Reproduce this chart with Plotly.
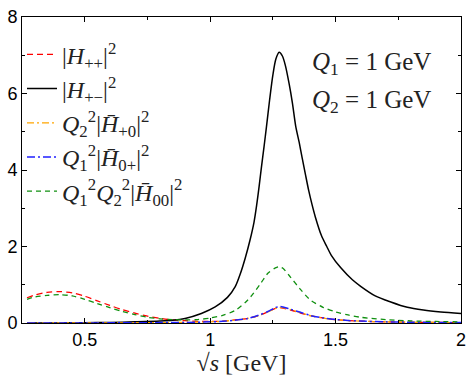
import plotly.graph_objects as go

# ---- data ----
x_pp = [0.27,0.3,0.35,0.4,0.45,0.5,0.55,0.6,0.65,0.7,0.75,0.8,0.85,0.9,0.95,1.0,1.05,1.1,1.15,1.2,1.23,1.26,1.275,1.29,1.32,1.36,1.4,1.45,1.5,1.55,1.6,1.7,1.8,1.9,2.0]
y_pp = [0.66,0.73,0.80,0.82,0.79,0.70,0.58,0.46,0.35,0.26,0.18,0.12,0.08,0.06,0.045,0.04,0.05,0.08,0.12,0.21,0.29,0.38,0.40,0.39,0.34,0.26,0.19,0.13,0.09,0.065,0.05,0.03,0.02,0.015,0.01]

x_pm = [0.27,0.4,0.5,0.6,0.7,0.8,0.85,0.9,0.965,1.02,1.069,1.1,1.121,1.14,1.159,1.175,1.185,1.195,1.205,1.215,1.224,1.237,1.25,1.262,1.275,1.288,1.3,1.315,1.328,1.341,1.355,1.367,1.38,1.393,1.406,1.419,1.444,1.465,1.483,1.52,1.567,1.6,1.658,1.72,1.786,1.85,1.92,2.0]
y_pm = [0.0,0.003,0.007,0.015,0.03,0.05,0.07,0.12,0.25,0.42,0.67,0.95,1.3,1.7,2.17,2.64,3.06,3.56,4.1,4.62,5.1,5.83,6.48,6.9,7.08,6.98,6.73,6.25,5.75,5.15,4.72,4.31,3.88,3.46,3.1,2.78,2.28,2.0,1.77,1.45,1.13,0.96,0.71,0.55,0.41,0.34,0.29,0.25]

x_p0 = [0.27,0.4,0.5,0.6,0.7,0.8,0.9,1.0,1.05,1.1,1.15,1.2,1.23,1.26,1.275,1.29,1.32,1.36,1.4,1.45,1.5,1.55,1.6,1.7,1.8,1.9,2.0]
y_p0 = [0.0,0.0,0.002,0.004,0.006,0.01,0.015,0.03,0.045,0.075,0.12,0.21,0.29,0.38,0.41,0.40,0.35,0.27,0.19,0.13,0.09,0.065,0.05,0.03,0.02,0.015,0.01]

x_0p = x_p0
y_0p = [0.0,0.0,0.002,0.004,0.006,0.01,0.015,0.03,0.045,0.075,0.12,0.22,0.30,0.40,0.43,0.42,0.36,0.28,0.195,0.135,0.092,0.066,0.05,0.03,0.02,0.015,0.01]

x_00 = [0.27,0.3,0.35,0.4,0.45,0.5,0.55,0.6,0.65,0.7,0.75,0.8,0.85,0.9,0.95,1.0,1.05,1.1,1.15,1.2,1.23,1.26,1.275,1.29,1.32,1.36,1.4,1.45,1.5,1.55,1.6,1.7,1.8,1.9,2.0]
y_00 = [0.62,0.68,0.72,0.74,0.71,0.62,0.51,0.40,0.30,0.22,0.15,0.11,0.09,0.08,0.09,0.13,0.20,0.33,0.60,1.02,1.30,1.44,1.47,1.43,1.2,0.88,0.6,0.41,0.29,0.21,0.15,0.09,0.055,0.04,0.03]

names = ["|<i>H</i><sub>++</sub>|<sup>2</sup>",
         "|<i>H</i><sub>+−</sub>|<sup>2</sup>",
         "<i>Q</i><sub>2</sub><sup>2</sup>|<i>H̄</i><sub>+0</sub>|<sup>2</sup>",
         "<i>Q</i><sub>1</sub><sup>2</sup>|<i>H̄</i><sub>0+</sub>|<sup>2</sup>",
         "<i>Q</i><sub>1</sub><sup>2</sup><i>Q</i><sub>2</sub><sup>2</sup>|<i>H̄</i><sub>00</sub>|<sup>2</sup>"]

fig = go.Figure()
fig.add_trace(go.Scatter(x=x_pp, y=y_pp, mode="lines", name=names[0], line_shape="spline",
                         line=dict(color="red", width=1.3, dash="6px,4px", smoothing=0.8)))
fig.add_trace(go.Scatter(x=x_pm, y=y_pm, mode="lines", name=names[1], line_shape="spline",
                         line=dict(color="black", width=1.5, smoothing=0.8)))
fig.add_trace(go.Scatter(x=x_p0, y=y_p0, mode="lines", name=names[2], line_shape="spline",
                         line=dict(color="#FFA500", width=1.3, dash="7px,3px,2px,3px", smoothing=0.8)))
fig.add_trace(go.Scatter(x=x_0p, y=y_0p, mode="lines", name=names[3], line_shape="spline",
                         line=dict(color="#2020FF", width=1.5, dash="8px,3px,2px,3px", smoothing=0.8)))
fig.add_trace(go.Scatter(x=x_00, y=y_00, mode="lines", name=names[4], line_shape="spline",
                         line=dict(color="#109010", width=1.3, dash="5px,4px", smoothing=0.8)))

serif = "Liberation Serif, DejaVu Serif, serif"
nb = "\u00a0"
fig.add_annotation(x=1.4, y=6.78, xref="x", yref="y", xanchor="left", yanchor="middle",
                   text=f"<i>Q</i><sub>1</sub>{nb}={nb}1{nb}GeV", showarrow=False,
                   font=dict(family=serif, size=25, color="#222"))
fig.add_annotation(x=1.4, y=5.78, xref="x", yref="y", xanchor="left", yanchor="middle",
                   text=f"<i>Q</i><sub>2</sub>{nb}={nb}1{nb}GeV", showarrow=False,
                   font=dict(family=serif, size=25, color="#222"))

axis_common = dict(showline=True, linecolor="black", linewidth=1, mirror="allticks",
                   ticks="inside", ticklen=5, tickcolor="black", showgrid=False,
                   zeroline=False, ticklabeloverflow="allow",
                   tickfont=dict(family="Liberation Sans, Arial, sans-serif", size=18, color="black"))
fig.update_xaxes(range=[0.25, 2], tickvals=[0.5, 1, 1.5, 2], ticktext=["0.5", "1", "1.5", "2"],
                 minor=dict(ticks="inside", dtick=0.25, tick0=0.25, ticklen=3, tickcolor="black"),
                 title=dict(text="√<i>s</i> [GeV]",
                            font=dict(family=serif, size=24, color="#222"), standoff=0),
                 **axis_common)
fig.update_yaxes(range=[0, 8], tickvals=[0, 2, 4, 6, 8],
                 minor=dict(ticks="inside", dtick=1, tick0=0, ticklen=3, tickcolor="black"),
                 **axis_common)

fig.update_layout(
    width=473, height=382,
    margin=dict(l=16, r=7, t=7, b=59),
    plot_bgcolor="white", paper_bgcolor="white",
    showlegend=True,
    legend=dict(x=0.0, y=0.95, xanchor="left", yanchor="top",
                bgcolor="rgba(0,0,0,0)", borderwidth=0,
                font=dict(family=serif, size=24, color="#222"),
                itemwidth=30, tracegroupgap=0),
)

fig.write_html("out.html")
